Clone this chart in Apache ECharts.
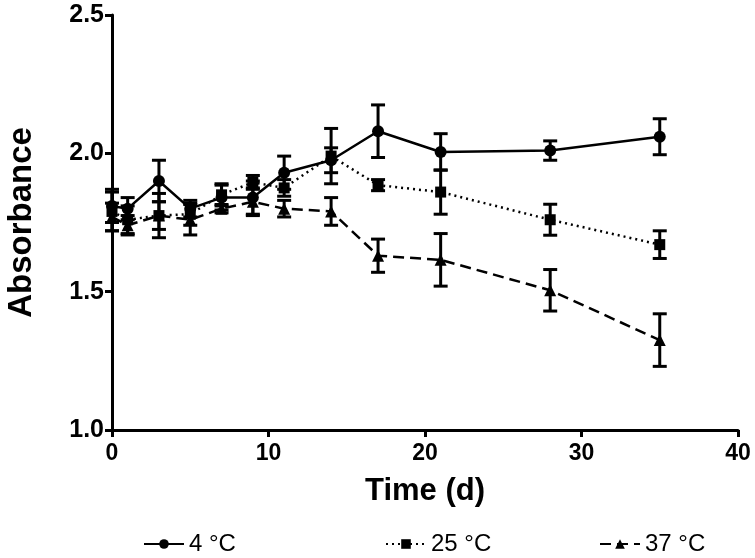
<!DOCTYPE html>
<html><head><meta charset="utf-8">
<script src="https://cdn.jsdelivr.net/npm/echarts@6/dist/echarts.min.js"></script>
<style>html,body{margin:0;padding:0;background:#fff}#c{width:755px;height:558px}</style>
</head><body><div id="c"></div>
<script>
const days = [0, 1, 3, 5, 7, 9, 11, 14, 17, 21, 28, 35];
const names = ['4 °C', '25 °C', '37 °C'];
const mean4 = [1.81, 1.80, 1.90, 1.80, 1.84, 1.84, 1.93, 1.975, 2.08, 2.005, 2.01, 2.06];
const err4  = [0.06, 0.04, 0.075, 0.03, 0.045, 0.06, 0.06, 0.045, 0.095, 0.066, 0.035, 0.065];
const mean25 = [1.79, 1.76, 1.775, 1.78, 1.85, 1.895, 1.875, 1.99, 1.885, 1.86, 1.76, 1.67];
const err25  = [0.07, 0.05, 0.08, 0.04, 0.04, 0.025, 0.03, 0.10, 0.02, 0.08, 0.056, 0.05];
const mean37 = [1.77, 1.74, 1.775, 1.76, 1.80, 1.825, 1.80, 1.79, 1.63, 1.615, 1.505, 1.325];
const err37  = [0.05, 0.035, 0.05, 0.055, 0.015, 0.05, 0.03, 0.05, 0.06, 0.095, 0.075, 0.095];
const xTicks = [0, 10, 20, 30, 40];
const yTicks = [1.0, 1.5, 2.0, 2.5];

const FONT = '"Liberation Sans", Arial, sans-serif';
const chart = echarts.init(document.getElementById('c'));

function lineData(m){ return days.map((d,i)=>[d, m[i]]); }
function errData(m,e){ return days.map((d,i)=>[d, m[i]-e[i], m[i]+e[i]]); }
function errSeries(m,e){
  return {
    type:'custom', data: errData(m,e), silent:true, z:3,
    encode:{x:0, y:[1,2]},
    renderItem:function(params, api){
      const x = api.value(0);
      const lo = api.coord([x, api.value(1)]);
      const hi = api.coord([x, api.value(2)]);
      const hw = 7;
      const st = {stroke:'#000', lineWidth:3, fill:null};
      return {type:'group', children:[
        {type:'line', shape:{x1:lo[0], y1:lo[1], x2:hi[0], y2:hi[1]}, style:st},
        {type:'line', shape:{x1:lo[0]-hw, y1:lo[1], x2:lo[0]+hw, y2:lo[1]}, style:st},
        {type:'line', shape:{x1:hi[0]-hw, y1:hi[1], x2:hi[0]+hw, y2:hi[1]}, style:st}
      ]};
    }
  };
}
function lineSeries(name, m, sym, size, type){
  return {
    name:name, type:'line', data: lineData(m), symbol: sym, symbolSize: size,
    z:4,
    itemStyle:{color:'#000'},
    lineStyle:{color:'#000', width:2.5, type:type},
    emphasis:{disabled:true}
  };
}
const legendCommon = {
  top: 527, itemWidth: 40, itemHeight: 12, itemGap: 6,
  textStyle:{fontFamily:FONT, fontSize:24, color:'#000'},
  selectedMode:false
};
chart.setOption({
  animation:false,
  grid:{left:112, right:17, top:15, bottom:128, containLabel:false, outerBoundsMode:'none'},
  xAxis:{
    type:'value', min:0, max:40, interval:10,
    name:'Time (d)', nameLocation:'middle', nameGap:46,
    nameTextStyle:{fontFamily:FONT, fontWeight:'bold', fontSize:31, color:'#000'},
    axisLine:{show:true, onZero:false, lineStyle:{color:'#000', width:3}},
    axisTick:{show:true, length:7, lineStyle:{color:'#000', width:3}},
    axisLabel:{fontFamily:FONT, fontWeight:'bold', fontSize:23, color:'#000', margin:12,
      formatter:v=>xTicks.includes(v)?String(v):''},
    splitLine:{show:false}
  },
  yAxis:{
    type:'value', min:1.0, max:2.5, interval:0.5,
    name:'Absorbance', nameLocation:'middle', nameGap:74, nameRotate:90,
    nameTextStyle:{fontFamily:FONT, fontWeight:'bold', fontSize:33, color:'#000'},
    axisLine:{show:true, onZero:false, lineStyle:{color:'#000', width:3}},
    axisTick:{show:true, length:7, lineStyle:{color:'#000', width:3}},
    axisLabel:{fontFamily:FONT, fontWeight:'bold', fontSize:25, color:'#000', margin:8,
      formatter:v=>yTicks.some(t=>Math.abs(t-v)<1e-9)?v.toFixed(1):''},
    splitLine:{show:false}
  },
  legend:[
    Object.assign({}, legendCommon, {left:138, data:[names[0]]}),
    Object.assign({}, legendCommon, {left:380, data:[names[1]]}),
    Object.assign({}, legendCommon, {left:594, data:[names[2]]})
  ],
  series:[
    errSeries(mean4, err4),
    errSeries(mean25, err25),
    errSeries(mean37, err37),
    lineSeries(names[0], mean4, 'circle', 12, 'solid'),
    lineSeries(names[1], mean25, 'rect', 11, [2,4]),
    lineSeries(names[2], mean37, 'triangle', 12, [11,6])
  ]
});
</script>
</body></html>
